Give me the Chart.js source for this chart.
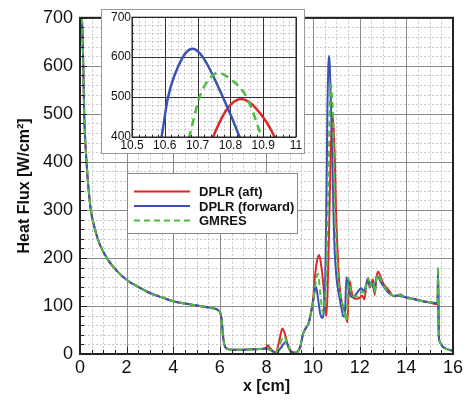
<!DOCTYPE html>
<html><head><meta charset="utf-8">
<script src="https://cdn.jsdelivr.net/npm/chart.js@4"></script>
<style>
html,body{margin:0;padding:0;background:#fff;}
#wrap{position:relative;width:466px;height:400px;}
#inset{position:absolute;left:101px;top:9px;}
</style>
</head><body>
<div id="wrap"><canvas id="main" width="466" height="400"></canvas><canvas id="inset" width="204" height="145"></canvas></div>
<script>
// ---- data ----
const seriesNames = ['DPLR (aft)', 'DPLR (forward)', 'GMRES'];
const xMajorTicks = [0, 2, 4, 6, 8, 10, 12, 14, 16];
const yMajorTicks = [0, 100, 200, 300, 400, 500, 600, 700];
const insetXTicks = [10.5, 10.6, 10.7, 10.8, 10.9, 11];
const insetYTicks = [400, 500, 600, 700];

const xBase = [0.06,0.08,0.1,0.14,0.18,0.28,0.45,0.63,0.85,1.2,1.6,2.07,2.5,3.0,3.57,4.0,4.5,5.14,5.6,5.97,6.03,6.08,6.14,6.2,6.3,6.5,7.0,7.5,7.9];
const yBase = [740,700,680,600,500,400,305,262,228,196,172,152,140,127,117,110,105,100,96,89.5,84,70,35,18,11,9,9,10,11];

const xAft = [8.0,8.05,8.15,8.3,8.4,8.55,8.68,8.8,8.95,9.05,9.2,9.35,9.45,9.57,9.7,9.8,9.92,10.0,10.07,10.17,10.26,10.33,10.4,10.47,10.52,10.57,10.62,10.68,10.72,10.747,10.79,10.833,10.88,10.935,10.98,11.05,11.12,11.22,11.32,11.42,11.47,11.52,11.57,11.63,11.72,11.85,12.0,12.1,12.2,12.3,12.36,12.43,12.5,12.57,12.64,12.72,12.79,12.86,13.0,13.15,13.29,13.43,13.6,13.75,13.9,14.1,14.4,14.7,15.0,15.32,15.34,15.36,15.39,15.42,15.5,15.57,15.75,15.95,16.0];
const yAft = [14,18,12,5,3,28,53,40,12,5,3,6,16,42,55,63,90,115,157,195,206,190,164,125,95,79,130,250,340,400,470,495,470,400,300,215,150,110,95,75,66,125,152,135,118,115,117,122,114,150,158,138,148,155,123,160,172,165,148,138,130,120,121,124,119,116,114,110,107,104,104,175,40,27,20,15,10,7,6];

const xFwd = [8.0,8.1,8.25,8.4,8.6,8.83,9.0,9.1,9.22,9.35,9.45,9.57,9.7,9.8,9.92,10.0,10.07,10.12,10.2,10.3,10.4,10.46,10.52,10.56,10.59,10.61,10.655,10.685,10.716,10.777,10.828,10.87,10.93,11.0,11.1,11.2,11.3,11.36,11.43,11.5,11.6,11.7,11.85,12.0,12.07,12.15,12.25,12.36,12.43,12.5,12.57,12.64,12.71,12.8,12.9,13.0,13.15,13.3,13.45,13.6,13.75,13.9,14.1,14.4,14.7,15.0,15.32,15.34,15.36,15.39,15.42,15.5,15.57,15.75,15.95,16.0];
const yFwd = [11,10,6,2,12,25,10,4,1,5,15,42,55,63,88,108,132,140,120,85,75,90,160,280,400,500,600,621,600,500,400,300,210,160,125,100,78,80,160,150,122,118,125,135,137,130,140,155,142,150,140,130,161,160,150,142,132,125,121,122,120,119,117,113,110,108,106,106,178,40,27,20,15,10,7,6];

const xGm = [8.0,8.1,8.25,8.4,8.55,8.75,8.9,9.05,9.2,9.35,9.45,9.57,9.7,9.8,9.92,10.0,10.1,10.21,10.3,10.38,10.43,10.5,10.57,10.63,10.674,10.706,10.735,10.762,10.8,10.849,10.895,10.93,10.98,11.05,11.15,11.25,11.35,11.41,11.45,11.5,11.57,11.65,11.75,11.9,12.0,12.14,12.22,12.3,12.36,12.43,12.5,12.57,12.64,12.72,12.79,12.9,13.0,13.15,13.29,13.43,13.55,13.7,13.9,14.1,14.4,14.7,15.0,15.32,15.34,15.36,15.39,15.42,15.5,15.57,15.75,15.95,16.0];
const yGm = [12,10,6,3,18,37,20,6,2,6,16,42,55,63,89,110,145,167,130,95,86,105,170,300,400,500,545,561,545,500,400,310,240,180,130,105,88,70,72,158,145,125,120,120,125,130,125,150,158,140,150,152,128,158,165,155,145,134,127,121,125,123,119,116,113,110,108,106,106,182,40,27,20,15,10,7,6];

// ---- styles ----
const FONT = "'Liberation Sans', Arial, Helvetica, sans-serif";
Chart.defaults.font.family = FONT;
const COLORS = ['#e0262b', '#3a52b4', '#4cbf3e'];

const pts = (xs, ys) => xs.map((x, i) => ({x: x, y: ys[i]}));
const isMajor = (v, arr) => arr.some(m => Math.abs(m - v) < 1e-6);

function makeDatasets(lw, dash) {
  const xs = [xBase.concat(xAft), xBase.concat(xFwd), xBase.concat(xGm)];
  const ys = [yBase.concat(yAft), yBase.concat(yFwd), yBase.concat(yGm)];
  return seriesNames.map((name, i) => ({
    label: name,
    data: pts(xs[i], ys[i]),
    showLine: true,
    borderColor: COLORS[i],
    backgroundColor: COLORS[i],
    borderWidth: lw,
    borderDash: i === 2 ? dash : [],
    pointRadius: 0,
    pointHoverRadius: 0,
    fill: false,
    tension: 0.4,
    cubicInterpolationMode: 'monotone',
    order: 3 - i,
    clip: 0
  }));
}

// grid (from the scales' own ticks), inward tick marks and frame
function gridFrame(xMaj, yMaj, majLen, minLen, majColor, minColor, frameColor, frameW) {
  return {
    id: 'gridFrame',
    beforeDatasetsDraw(chart) {
      const {ctx, chartArea: a, scales} = chart;
      ctx.save();
      ctx.lineWidth = 1;
      // minor dashed
      ctx.strokeStyle = minColor;
      ctx.setLineDash([2, 2]);
      scales.x.ticks.forEach(t => {
        if (isMajor(t.value, xMaj)) return;
        const px = Math.round(scales.x.getPixelForValue(t.value)) + 0.5;
        ctx.beginPath(); ctx.moveTo(px, a.top); ctx.lineTo(px, a.bottom); ctx.stroke();
      });
      scales.y.ticks.forEach(t => {
        if (isMajor(t.value, yMaj)) return;
        const py = Math.round(scales.y.getPixelForValue(t.value)) + 0.5;
        ctx.beginPath(); ctx.moveTo(a.left, py); ctx.lineTo(a.right, py); ctx.stroke();
      });
      // major solid
      ctx.setLineDash([]);
      ctx.strokeStyle = majColor;
      scales.x.ticks.forEach(t => {
        if (!isMajor(t.value, xMaj)) return;
        const px = Math.round(scales.x.getPixelForValue(t.value)) + 0.5;
        ctx.beginPath(); ctx.moveTo(px, a.top); ctx.lineTo(px, a.bottom); ctx.stroke();
      });
      scales.y.ticks.forEach(t => {
        if (!isMajor(t.value, yMaj)) return;
        const py = Math.round(scales.y.getPixelForValue(t.value)) + 0.5;
        ctx.beginPath(); ctx.moveTo(a.left, py); ctx.lineTo(a.right, py); ctx.stroke();
      });
      ctx.restore();
    },
    afterDatasetsDraw(chart) {
      const {ctx, chartArea: a, scales} = chart;
      ctx.save();
      ctx.strokeStyle = frameColor;
      ctx.lineWidth = 1;
      scales.x.ticks.forEach(t => {
        const px = Math.round(scales.x.getPixelForValue(t.value)) + 0.5;
        const len = isMajor(t.value, xMaj) ? majLen : minLen;
        ctx.beginPath(); ctx.moveTo(px, a.bottom); ctx.lineTo(px, a.bottom - len); ctx.stroke();
      });
      scales.y.ticks.forEach(t => {
        const py = Math.round(scales.y.getPixelForValue(t.value)) + 0.5;
        const len = isMajor(t.value, yMaj) ? majLen : minLen;
        ctx.beginPath(); ctx.moveTo(a.left, py); ctx.lineTo(a.left + len, py); ctx.stroke();
      });
      ctx.lineWidth = frameW;
      ctx.strokeRect(a.left, a.top, a.right - a.left, a.bottom - a.top);
      ctx.restore();
    }
  };
}

const legendBox = {
  id: 'legendBox',
  afterDraw(chart) {
    const ctx = chart.ctx;
    ctx.save();
    ctx.fillStyle = '#fff';
    ctx.fillRect(127, 173, 170, 60);
    ctx.strokeStyle = '#888';
    ctx.lineWidth = 1;
    ctx.strokeRect(127.5, 173.5, 170, 60);
    const rows = [191.5, 206, 220.5];
    chart.data.datasets.forEach((ds, i) => {
      ctx.strokeStyle = ds.borderColor;
      ctx.lineWidth = 2;
      ctx.setLineDash(ds.borderDash || []);
      ctx.beginPath(); ctx.moveTo(134, rows[i]); ctx.lineTo(190, rows[i]); ctx.stroke();
      ctx.setLineDash([]);
      ctx.fillStyle = '#111';
      ctx.font = 'bold 13px ' + FONT;
      ctx.textBaseline = 'middle';
      ctx.textAlign = 'left';
      ctx.fillText(ds.label, 199, rows[i] + 1);
    });
    ctx.restore();
  }
};

const noGrid = {display: false, drawTicks: false};

// ---- main chart ----
new Chart(document.getElementById('main'), {
  type: 'scatter',
  data: {datasets: makeDatasets(2, [6, 4])},
  options: {
    responsive: false, animation: false, devicePixelRatio: 1,
    layout: {padding: {top: 10, right: 13, left: 0, bottom: 0}},
    plugins: {legend: {display: false}, tooltip: {enabled: false}},
    scales: {
      x: {
        type: 'linear', min: 0, max: 16,
        afterFit(s) { s.height = 46; },
        ticks: {stepSize: 0.5, autoSkip: false, maxRotation: 0, padding: 3, color: '#111',
          font: {size: 18}, callback: v => isMajor(v, xMajorTicks) ? String(v) : ''},
        grid: noGrid, border: {display: false},
        title: {display: true, text: 'x [cm]', color: '#111', font: {size: 16, weight: 'bold'}, padding: {top: 0, bottom: 4}}
      },
      y: {
        type: 'linear', min: 0, max: 700,
        afterFit(s) { s.width = 80; },
        ticks: {stepSize: 20, autoSkip: false, padding: 7, color: '#111',
          font: {size: 18}, callback: v => isMajor(v, yMajorTicks) ? String(v) : ''},
        grid: noGrid, border: {display: false},
        title: {display: true, text: 'Heat Flux [W/cm²]', color: '#111', font: {size: 16, weight: 'bold'}, padding: {top: 15, bottom: 0}}
      }
    }
  },
  plugins: [gridFrame(xMajorTicks, yMajorTicks, 7, 4, '#8c8c8c', '#c8c8c8', '#222', 2), legendBox]
});

// ---- inset chart ----
const insetBg = {
  id: 'insetBg',
  beforeDraw(chart) {
    const ctx = chart.ctx;
    ctx.save();
    ctx.fillStyle = '#fff';
    ctx.fillRect(0, 0, chart.width, chart.height);
    ctx.strokeStyle = '#999';
    ctx.lineWidth = 1;
    ctx.strokeRect(0.5, 0.5, chart.width - 1, chart.height - 1);
    ctx.restore();
  }
};

new Chart(document.getElementById('inset'), {
  type: 'scatter',
  data: {datasets: makeDatasets(2.5, [8, 5])},
  options: {
    responsive: false, animation: false, devicePixelRatio: 1,
    layout: {padding: {top: 7, right: 9, left: 0, bottom: 0}},
    plugins: {legend: {display: false}, tooltip: {enabled: false}},
    scales: {
      x: {
        type: 'linear', min: 10.5, max: 11,
        afterFit(s) { s.height = 17; },
        ticks: {stepSize: 0.02, autoSkip: false, maxRotation: 0, padding: 1, color: '#111',
          font: {size: 12}, callback: v => isMajor(v, insetXTicks) ? String(Math.round(v * 10) / 10) : ''},
        grid: noGrid, border: {display: false}
      },
      y: {
        type: 'linear', min: 400, max: 700,
        afterFit(s) { s.width = 31; },
        ticks: {stepSize: 20, autoSkip: false, padding: 1, color: '#111',
          font: {size: 12}, callback: v => isMajor(v, insetYTicks) ? String(v) : ''},
        grid: noGrid, border: {display: false}
      }
    }
  },
  plugins: [insetBg, gridFrame(insetXTicks, insetYTicks, 4, 2, '#333', '#c8c8c8', '#222', 1)]
});
</script>
</body></html>
